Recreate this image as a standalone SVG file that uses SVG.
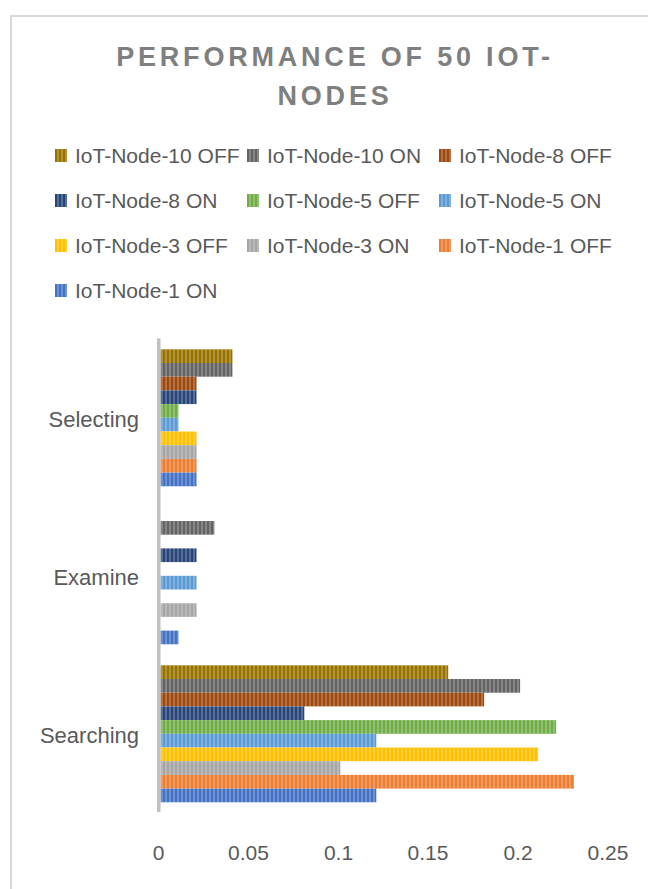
<svg xmlns="http://www.w3.org/2000/svg" width="648" height="889" viewBox="0 0 648 889">
  <style>
    .title { font-family: "Liberation Sans", Arial, sans-serif; font-weight: bold; font-size: 27px; letter-spacing: 3.8px; fill: #7f7f7f; text-anchor: middle; }
    .legend-text { font-family: "Liberation Sans", Arial, sans-serif; font-size: 21px; fill: #595959; }
    .cat { font-family: "Liberation Sans", Arial, sans-serif; font-size: 22px; fill: #595959; text-anchor: end; }
    .tick { font-family: "Liberation Sans", Arial, sans-serif; font-size: 21px; fill: #595959; text-anchor: middle; }
  </style>
  <defs>
    <!-- striped fills, one per series -->
    <pattern id="p-n10off" patternUnits="userSpaceOnUse" width="4" height="10"><rect width="4" height="10" fill="#997300"/><rect x="1.2" width="1.6" height="10" fill="#fff" fill-opacity="0.28"/></pattern>
    <pattern id="p-n10on" patternUnits="userSpaceOnUse" width="4" height="10"><rect width="4" height="10" fill="#636363"/><rect x="1.2" width="1.6" height="10" fill="#fff" fill-opacity="0.28"/></pattern>
    <pattern id="p-n8off" patternUnits="userSpaceOnUse" width="4" height="10"><rect width="4" height="10" fill="#9e480e"/><rect x="1.2" width="1.6" height="10" fill="#fff" fill-opacity="0.28"/></pattern>
    <pattern id="p-n8on" patternUnits="userSpaceOnUse" width="4" height="10"><rect width="4" height="10" fill="#264478"/><rect x="1.2" width="1.6" height="10" fill="#fff" fill-opacity="0.28"/></pattern>
    <pattern id="p-n5off" patternUnits="userSpaceOnUse" width="4" height="10"><rect width="4" height="10" fill="#70ad47"/><rect x="1.2" width="1.6" height="10" fill="#fff" fill-opacity="0.28"/></pattern>
    <pattern id="p-n5on" patternUnits="userSpaceOnUse" width="4" height="10"><rect width="4" height="10" fill="#5b9bd5"/><rect x="1.2" width="1.6" height="10" fill="#fff" fill-opacity="0.28"/></pattern>
    <pattern id="p-n3off" patternUnits="userSpaceOnUse" width="4" height="10"><rect width="4" height="10" fill="#ffc000"/><rect x="1.2" width="1.6" height="10" fill="#fff" fill-opacity="0.28"/></pattern>
    <pattern id="p-n3on" patternUnits="userSpaceOnUse" width="4" height="10"><rect width="4" height="10" fill="#a5a5a5"/><rect x="1.2" width="1.6" height="10" fill="#fff" fill-opacity="0.28"/></pattern>
    <pattern id="p-n1off" patternUnits="userSpaceOnUse" width="4" height="10"><rect width="4" height="10" fill="#ed7d31"/><rect x="1.2" width="1.6" height="10" fill="#fff" fill-opacity="0.28"/></pattern>
    <pattern id="p-n1on" patternUnits="userSpaceOnUse" width="4" height="10"><rect width="4" height="10" fill="#4472c4"/><rect x="1.2" width="1.6" height="10" fill="#fff" fill-opacity="0.28"/></pattern>
  </defs>

  <rect width="648" height="889" fill="#ffffff"/>

  <!-- chart frame (continues past the right and bottom edges) -->
  <rect id="chart-frame" x="11" y="16" width="700" height="900" fill="none" stroke="#d9d9d9" stroke-width="2"/>

  <g id="title">
    <text class="title" x="335" y="66">PERFORMANCE OF 50 IOT-</text>
    <text class="title" x="335" y="105">NODES</text>
  </g>

  <g id="legend">
    <g id="legend-n10off"><rect x="55" y="149" width="12" height="13" fill="url(#p-n10off)"/><text class="legend-text" x="75" y="162.5">IoT-Node-10 OFF</text></g>
    <g id="legend-n10on"><rect x="247" y="149" width="12" height="13" fill="url(#p-n10on)"/><text class="legend-text" x="267" y="162.5">IoT-Node-10 ON</text></g>
    <g id="legend-n8off"><rect x="439" y="149" width="12" height="13" fill="url(#p-n8off)"/><text class="legend-text" x="459" y="162.5">IoT-Node-8 OFF</text></g>
    <g id="legend-n8on"><rect x="55" y="194" width="12" height="13" fill="url(#p-n8on)"/><text class="legend-text" x="75" y="207.5">IoT-Node-8 ON</text></g>
    <g id="legend-n5off"><rect x="247" y="194" width="12" height="13" fill="url(#p-n5off)"/><text class="legend-text" x="267" y="207.5">IoT-Node-5 OFF</text></g>
    <g id="legend-n5on"><rect x="439" y="194" width="12" height="13" fill="url(#p-n5on)"/><text class="legend-text" x="459" y="207.5">IoT-Node-5 ON</text></g>
    <g id="legend-n3off"><rect x="55" y="239" width="12" height="13" fill="url(#p-n3off)"/><text class="legend-text" x="75" y="252.5">IoT-Node-3 OFF</text></g>
    <g id="legend-n3on"><rect x="247" y="239" width="12" height="13" fill="url(#p-n3on)"/><text class="legend-text" x="267" y="252.5">IoT-Node-3 ON</text></g>
    <g id="legend-n1off"><rect x="439" y="239" width="12" height="13" fill="url(#p-n1off)"/><text class="legend-text" x="459" y="252.5">IoT-Node-1 OFF</text></g>
    <g id="legend-n1on"><rect x="55" y="284" width="12" height="13" fill="url(#p-n1on)"/><text class="legend-text" x="75" y="297.5">IoT-Node-1 ON</text></g>
  </g>

  <!-- bars: x origin 160.5, 1798 px per unit; bands of 158 px, bars 13.7 px tall -->
  <g id="bars">
    <g id="series-n10off" fill="url(#p-n10off)">
      <rect x="160.5" y="349.3" width="71.9" height="13.7"/>
      <rect x="160.5" y="665.3" width="287.7" height="13.7"/>
    </g>
    <g id="series-n10on" fill="url(#p-n10on)">
      <rect x="160.5" y="363" width="71.9" height="13.7"/>
      <rect x="160.5" y="521" width="53.9" height="13.7"/>
      <rect x="160.5" y="679" width="359.6" height="13.7"/>
    </g>
    <g id="series-n8off" fill="url(#p-n8off)">
      <rect x="160.5" y="376.7" width="36" height="13.7"/>
      <rect x="160.5" y="692.7" width="323.6" height="13.7"/>
    </g>
    <g id="series-n8on" fill="url(#p-n8on)">
      <rect x="160.5" y="390.4" width="36" height="13.7"/>
      <rect x="160.5" y="548.4" width="36" height="13.7"/>
      <rect x="160.5" y="706.4" width="143.8" height="13.7"/>
    </g>
    <g id="series-n5off" fill="url(#p-n5off)">
      <rect x="160.5" y="404.1" width="18" height="13.7"/>
      <rect x="160.5" y="720.1" width="395.6" height="13.7"/>
    </g>
    <g id="series-n5on" fill="url(#p-n5on)">
      <rect x="160.5" y="417.8" width="18" height="13.7"/>
      <rect x="160.5" y="575.8" width="36" height="13.7"/>
      <rect x="160.5" y="733.8" width="215.8" height="13.7"/>
    </g>
    <g id="series-n3off" fill="url(#p-n3off)">
      <rect x="160.5" y="431.5" width="36" height="13.7"/>
      <rect x="160.5" y="747.5" width="377.6" height="13.7"/>
    </g>
    <g id="series-n3on" fill="url(#p-n3on)">
      <rect x="160.5" y="445.2" width="36" height="13.7"/>
      <rect x="160.5" y="603.2" width="36" height="13.7"/>
      <rect x="160.5" y="761.2" width="179.8" height="13.7"/>
    </g>
    <g id="series-n1off" fill="url(#p-n1off)">
      <rect x="160.5" y="458.9" width="36" height="13.7"/>
      <rect x="160.5" y="774.9" width="413.5" height="13.7"/>
    </g>
    <g id="series-n1on" fill="url(#p-n1on)">
      <rect x="160.5" y="472.6" width="36" height="13.7"/>
      <rect x="160.5" y="630.6" width="18" height="13.7"/>
      <rect x="160.5" y="788.6" width="215.8" height="13.7"/>
    </g>
  </g>

  <g id="axes">
    <rect id="category-axis" x="157" y="338.5" width="3.5" height="473.5" fill="#c0c0c0"/>
    <text class="cat" x="139" y="426.5">Selecting</text>
    <text class="cat" x="139" y="584.5">Examine</text>
    <text class="cat" x="139" y="742.5">Searching</text>
    <text class="tick" x="158.5" y="860">0</text>
    <text class="tick" x="248.5" y="860">0.05</text>
    <text class="tick" x="338.5" y="860">0.1</text>
    <text class="tick" x="428" y="860">0.15</text>
    <text class="tick" x="518" y="860">0.2</text>
    <text class="tick" x="608" y="860">0.25</text>
  </g>
</svg>
